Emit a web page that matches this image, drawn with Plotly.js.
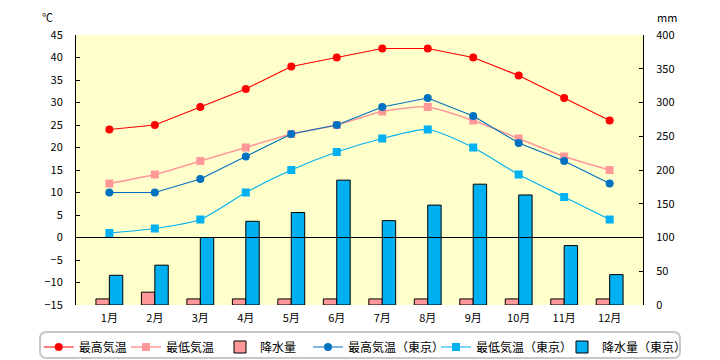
<!DOCTYPE html>
<html>
<head>
<meta charset="utf-8">
<script src="https://cdn.plot.ly/plotly-3.0.1.min.js"></script>
<style>html,body{margin:0;padding:0;background:#fff;}#chart{width:720px;height:360px;}</style>
</head>
<body>
<div id="chart"></div>
<script>
const months = ["1月","2月","3月","4月","5月","6月","7月","8月","9月","10月","11月","12月"];
const highTemp = [24, 25, 29, 33, 38, 40, 42, 42, 40, 36, 31, 26];
const lowTemp = [12, 14, 17, 20, 23, 25, 28, 29, 26, 22, 18, 15];
const precip = [9, 19, 9, 9, 9, 9, 9, 9, 9, 9, 9, 9];
const highTokyo = [10, 10, 13, 18, 23, 25, 29, 31, 27, 21, 17, 12];
const lowTokyo = [1, 2, 4, 10, 15, 19, 22, 24, 20, 14, 9, 4];
const precipTokyo = [44, 59, 100, 124, 137, 185, 125, 148, 179, 163, 88, 45];

const FONT = '"Noto Sans CJK JP", "DejaVu Sans", sans-serif';

const traces = [
  {name: "最高気温", x: months, y: highTemp, type: "scatter", mode: "lines+markers", legend: "legend",
   line: {color: "#FF0000", width: 1.2}, marker: {color: "#FF0000", symbol: "circle", size: 8}, yaxis: "y"},
  {name: "最低気温", x: months, y: lowTemp, type: "scatter", mode: "lines+markers", legend: "legend2",
   line: {color: "#FF9999", width: 1.5, shape: "spline", smoothing: 0.6}, marker: {color: "#FF9999", symbol: "square", size: 8}, yaxis: "y"},
  {name: "降水量", x: months, y: precip, type: "bar", yaxis: "y2", legend: "legend3",
   marker: {color: "#FF9999", line: {color: "#000000", width: 1}}},
  {name: "最高気温（東京）", x: months, y: highTokyo, type: "scatter", mode: "lines+markers", legend: "legend4",
   line: {color: "#0070C0", width: 1.2}, marker: {color: "#0070C0", symbol: "circle", size: 8}, yaxis: "y"},
  {name: "最低気温（東京）", x: months, y: lowTokyo, type: "scatter", mode: "lines+markers", legend: "legend5",
   line: {color: "#00B0F0", width: 1.2, shape: "spline", smoothing: 0.6}, marker: {color: "#00B0F0", symbol: "square", size: 8}, yaxis: "y"},
  {name: "降水量（東京）", x: months, y: precipTokyo, type: "bar", yaxis: "y2", legend: "legend6",
   marker: {color: "#00B0F0", line: {color: "#000000", width: 1}}}
];

function leg(px) {
  return {orientation: "h", xref: "container", yref: "container", x: px / 720, xanchor: "left",
          y: 1 - 347 / 360, yanchor: "middle", font: {size: 12, family: FONT},
          bgcolor: "rgba(0,0,0,0)", borderwidth: 0, itemwidth: 30};
}

const layout = {
  width: 720, height: 360,
  margin: {l: 76, r: 77, t: 35, b: 55},
  paper_bgcolor: "#FFFFFF",
  plot_bgcolor: "#FFFFCC",
  font: {family: FONT, size: 11, color: "#000000"},
  showlegend: true,
  barmode: "group",
  bargap: 0.41,
  bargroupgap: 0,
  xaxis: {type: "category", showline: false, ticks: "", showgrid: false, zeroline: false,
          tickfont: {size: 11}, fixedrange: true, automargin: false, ticklabelstandoff: 5},
  yaxis: {range: [-15, 45], dtick: 5, showline: true, linecolor: "#000000", linewidth: 1,
          ticks: "inside", ticklen: 4, tickcolor: "#000000", showgrid: false, zeroline: false,
          tickfont: {size: 11}, ticklabelstandoff: 10, automargin: false},
  yaxis2: {range: [0, 400], dtick: 50, overlaying: "y", side: "right", showline: true,
           linecolor: "#000000", linewidth: 1, ticks: "inside", ticklen: 4, tickcolor: "#000000",
           showgrid: false, zeroline: false, tickfont: {size: 11}, ticklabelstandoff: 10, automargin: false},
  legend: leg(38.7),
  legend2: leg(126),
  legend3: leg(220),
  legend4: leg(308),
  legend5: leg(436),
  legend6: leg(562),
  annotations: [
    {text: "℃", xref: "paper", yref: "paper", x: -0.051, y: 1.067, showarrow: false,
     xanchor: "center", yanchor: "middle", font: {size: 11}},
    {text: "mm", xref: "paper", yref: "paper", x: 1.042, y: 1.067, showarrow: false,
     xanchor: "center", yanchor: "middle", font: {size: 11}}
  ],
  shapes: [
    {type: "line", xref: "paper", yref: "y", x0: 0, x1: 1, y0: 0, y1: 0, layer: "above",
     line: {color: "#000000", width: 1}},
    {type: "path", xref: "paper", yref: "paper", layer: "below",
     path: "M -0.0512,-0.1 L 1.053,-0.1 Q 1.0653,-0.1 1.0653,-0.126 L 1.0653,-0.1703 Q 1.0653,-0.1963 1.053,-0.1963 L -0.0512,-0.1963 Q -0.0635,-0.1963 -0.0635,-0.1703 L -0.0635,-0.126 Q -0.0635,-0.1 -0.0512,-0.1 Z",
     line: {color: "#C8C8C8", width: 2}, fillcolor: "rgba(0,0,0,0)"}
  ]
};

Plotly.newPlot("chart", traces, layout, {displayModeBar: false, staticPlot: true});
</script>
</body>
</html>
